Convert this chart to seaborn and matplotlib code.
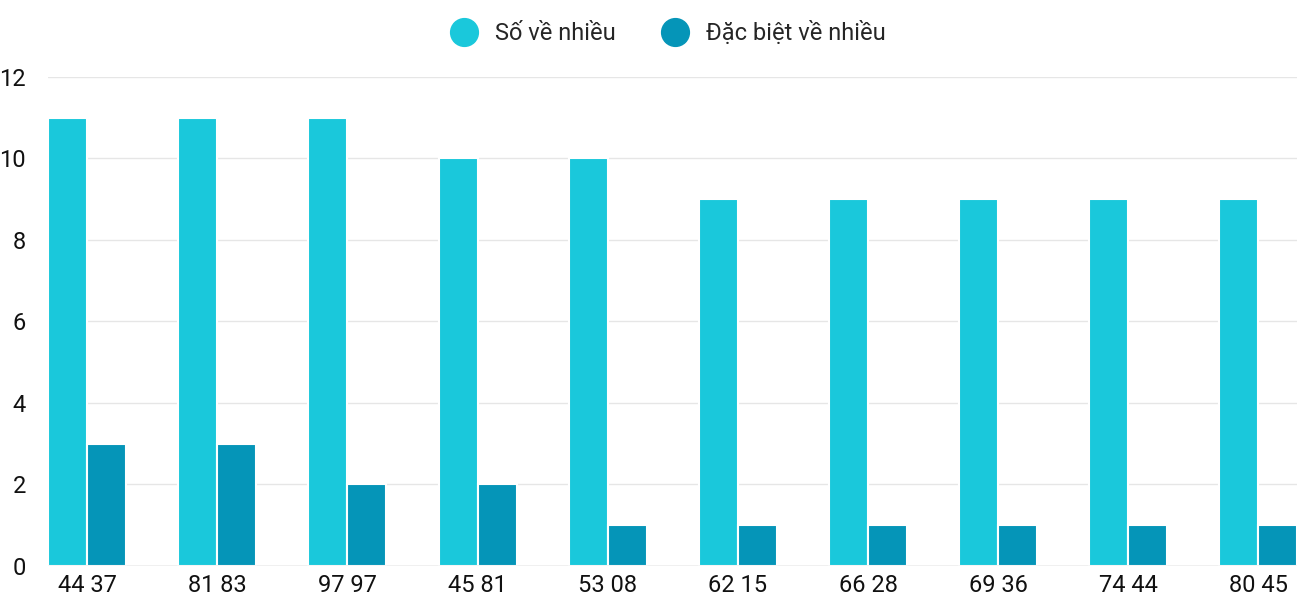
import matplotlib.pyplot as plt
import seaborn as sns
import pandas as pd

labels = ['44 37', '81 83', '97 97', '45 81', '53 08', '62 15', '66 28', '69 36', '74 44', '80 45']
so_ve_nhieu = [11, 11, 11, 10, 10, 9, 9, 9, 9, 9]
dac_biet = [3, 3, 2, 2, 1, 1, 1, 1, 1, 1]
series = ['Số về nhiều', 'Đặc biệt về nhiều']
colors = ['#1AC8DB', '#0595B8']

df = pd.DataFrame({
    'label': labels * 2,
    'value': so_ve_nhieu + dac_biet,
    'series': [series[0]] * len(labels) + [series[1]] * len(labels),
})

sns.set_style('white')
plt.rcParams['font.family'] = ['Roboto', 'DejaVu Sans']

fig = plt.figure(figsize=(13, 6), dpi=100)
ax = fig.add_axes([0.037, 0.057, 0.961, 0.815])
sns.barplot(data=df, x='label', y='value', hue='series', palette=colors, saturation=1,
            width=0.6, edgecolor='white', linewidth=1.5, ax=ax, legend=False, zorder=3)

ax.set_xlim(-0.3, 9.3)
ax.set_ylim(0, 12)
ax.set_yticks(range(0, 13, 2))
ax.yaxis.grid(True, color='#e6e6e6', linewidth=1, zorder=0)
ax.set_axisbelow(True)
for s in ax.spines.values():
    s.set_visible(False)
ax.axhline(0, color='#cccccc', linewidth=1, zorder=4)
ax.set_xlabel('')
ax.set_ylabel('')
ax.tick_params(axis='both', labelsize=17, length=0, colors='#111111')
ax.tick_params(axis='y', pad=16)
ax.tick_params(axis='x', pad=6)

handles = [plt.Line2D([], [], marker='o', linestyle='', markersize=20, color=c) for c in colors]
fig.legend(handles, series, loc='upper center', ncol=2, frameon=False, fontsize=17,
           bbox_to_anchor=(0.51, 1.0), handletextpad=0.3, columnspacing=1.5)

fig.savefig('out.png')
